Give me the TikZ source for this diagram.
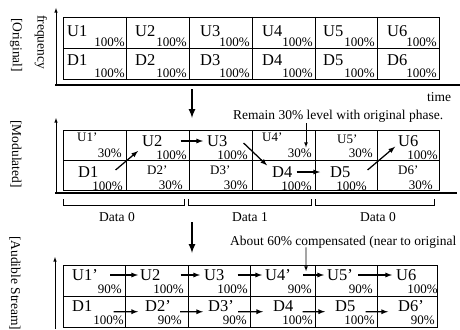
\documentclass[tikz,border=0pt]{standalone}
\usepackage{fontspec}
\setmainfont{Liberation Serif}
\usepackage{tikz}

\begin{document}
\begin{tikzpicture}[x=1pt, y=-1pt,
	big/.style={font=\fontsize{16.5}{16.5}\selectfont, inner sep=0pt, anchor=west},
	sml/.style={font=\fontsize{13}{13}\selectfont, inner sep=0pt, anchor=west},
	pct/.style={font=\fontsize{13}{13}\selectfont, inner sep=0pt, anchor=east},
	txt/.style={font=\fontsize{13.5}{13.5}\selectfont, inner sep=0pt},
	cell/.style={line width=0.9pt},
	base/.style={line width=1.5pt},
	axis/.style={line width=0.6pt, -latex},
	brk/.style={line width=0.8pt},
	flow/.style={line width=1.25pt, -latex},
	pin/.style={line width=0.7pt, -latex},
	down/.style={line width=2pt, -latex}]
	\useasboundingbox (0,0) rectangle (460,329);
	\clip (0,0) rectangle (460,329);

	% original
	\node[txt, rotate=-90] (orig) at (16,45) {[Original]};
	\node[txt, rotate=-90] (freq) at (41,42) {frequency};
	\node[txt] (time) at (439,97) {time};
	\draw[axis] (56,85) -- (56,8);
	\draw[base] (55,85) -- (460,85);
	\draw[cell] (63,17) rectangle (439,79) (63,48) -- (439,48)
	(126,17) -- (126,79) (189,17) -- (189,79) (252,17) -- (252,79)
	(315,17) -- (315,79) (377,17) -- (377,79);
	\node[big] (ou1) at (67,31) {U1};   \node[pct] (ou1p) at (125,42) {100\%};
	\node[big] (ou2) at (135,31) {U2};  \node[pct] (ou2p) at (187,42) {100\%};
	\node[big] (ou3) at (200,31) {U3};  \node[pct] (ou3p) at (250,42) {100\%};
	\node[big] (ou4) at (262,31) {U4};  \node[pct] (ou4p) at (313,42) {100\%};
	\node[big] (ou5) at (323,31) {U5};  \node[pct] (ou5p) at (375,42) {100\%};
	\node[big] (ou6) at (387,31) {U6};  \node[pct] (ou6p) at (437,42) {100\%};
	\node[big] (od1) at (67,60) {D1};   \node[pct] (od1p) at (125,73) {100\%};
	\node[big] (od2) at (135,60) {D2};  \node[pct] (od2p) at (187,73) {100\%};
	\node[big] (od3) at (200,60) {D3};  \node[pct] (od3p) at (250,73) {100\%};
	\node[big] (od4) at (262,60) {D4};  \node[pct] (od4p) at (313,73) {100\%};
	\node[big] (od5) at (323,60) {D5};  \node[pct] (od5p) at (375,73) {100\%};
	\node[big] (od6) at (387,60) {D6};  \node[pct] (od6p) at (437,73) {100\%};

	\coordinate (dn1a) at (192,89);
	\coordinate (dn1b) at (192,118);
	\draw[down] (dn1a) -- (dn1b);

	% modulated
	\node[txt, rotate=-90] (modu) at (16,154) {[Modulated]};
	\node[txt, anchor=west] (remain) at (233,116) {Remain 30\% level with original phase.};
	\draw[axis] (56,192) -- (56,118);
	\draw[base] (55,193) -- (457,193);
	\draw[cell] (63,130) rectangle (439,190) (63,160) -- (439,160)
	(126,130) -- (126,190) (189,130) -- (189,190) (252,130) -- (252,190)
	(315,130) -- (315,190) (377,130) -- (377,190);
	\node[sml] (mu1) at (77,137) {U1'};  \node[pct] (mu1p) at (122,153) {30\%};
	\node[big] (mu2) at (142,141) {U2};  \node[pct] (mu2p) at (187,155) {100\%};
	\node[big] (mu3) at (207,141) {U3};  \node[pct] (mu3p) at (248,155) {100\%};
	\node[sml] (mu4) at (262,137) {U4'}; \node[pct] (mu4p) at (312,153) {30\%};
	\node[sml] (mu5) at (337,139) {U5'}; \node[pct] (mu5p) at (373,153) {30\%};
	\node[big] (mu6) at (398,141) {U6};  \node[pct] (mu6p) at (438,155) {100\%};
	\node[big] (md1) at (78,172) {D1};   \node[pct] (md1p) at (123,186) {100\%};
	\node[sml] (md2) at (147,170) {D2'}; \node[pct] (md2p) at (183,185) {30\%};
	\node[sml] (md3) at (210,170) {D3'}; \node[pct] (md3p) at (248,185) {30\%};
	\node[big] (md4) at (272,172) {D4};  \node[pct] (md4p) at (312,186) {100\%};
	\node[big] (md5) at (330,172) {D5};  \node[pct] (md5p) at (367,186) {100\%};
	\node[sml] (md6) at (398,170) {D6'}; \node[pct] (md6p) at (433,185) {30\%};
	\draw[flow] ([shift={(17,-2)}]md1.east) -- ([shift={(-4,10)}]mu2.west);
	\draw[flow, shorten <=18pt, shorten >=4pt] (mu2) -- (mu3);
	\draw[flow] ([shift={(16,2)}]mu3.east) -- ([shift={(-5,-1)}]md4.north west);
	\draw[flow, shorten <=4pt, shorten >=10pt] (md4) -- (md5);
	\draw[flow] ([shift={(17,-2)}]md5.east) -- ([shift={(-3,0)}]mu6.south west);
	\draw[pin] ([shift={(73,1)}]remain.south west) -- ([shift={(-6,-1)}]mu4p.north east);

	% data brackets
	\draw[brk] (63,199) |- (184,205) -- (184,199);
	\draw[brk] (188,199) |- (311,205) -- (311,199);
	\draw[brk] (315,199) |- (434,205) -- (434,199);
	\node[txt] (data0a) at (117,217) {Data 0};
	\node[txt] (data1) at (250,217) {Data 1};
	\node[txt] (data0b) at (378,217) {Data 0};

	\coordinate (dn2a) at (192,222);
	\coordinate (dn2b) at (192,253);
	\draw[down] (dn2a) -- (dn2b);

	% audible
	\node[txt, rotate=-90, anchor=west] (aud) at (15,236) {[Audible Stream]};
	\node[txt, anchor=west] (about) at (230,242) {About 60\% compensated (near to original};
	\draw[axis] (55,329) -- (55,257);
	\draw[cell] (63,265) rectangle (437,327) (63,296) -- (437,296)
	(125,265) -- (125,327) (188,265) -- (188,327) (250,265) -- (250,327)
	(315,265) -- (315,327) (377,265) -- (377,327);
	\node[big] (au1) at (72,275) {U1'};  \node[pct] (au1p) at (122,289) {90\%};
	\node[big] (au2) at (140,275) {U2};   \node[pct] (au2p) at (184,289) {100\%};
	\node[big] (au3) at (204,275) {U3};   \node[pct] (au3p) at (248,289) {100\%};
	\node[big] (au4) at (265,275) {U4'};  \node[pct] (au4p) at (312,289) {90\%};
	\node[big] (au5) at (327,275) {U5'};  \node[pct] (au5p) at (373,289) {90\%};
	\node[big] (au6) at (396,275) {U6};   \node[pct] (au6p) at (438,289) {100\%};
	\node[big] (ad1) at (72,306) {D1};    \node[pct] (ad1p) at (124,320) {100\%};
	\node[big] (ad2) at (145,306) {D2'};  \node[pct] (ad2p) at (182,320) {90\%};
	\node[big] (ad3) at (208,306) {D3'};  \node[pct] (ad3p) at (247,320) {90\%};
	\node[big] (ad4) at (273,306) {D4};   \node[pct] (ad4p) at (313,320) {100\%};
	\node[big] (ad5) at (335,306) {D5};   \node[pct] (ad5p) at (375,320) {100\%};
	\node[big] (ad6) at (398,306) {D6'};  \node[pct] (ad6p) at (435,320) {90\%};
	\draw[flow, shorten <=12pt, shorten >=2pt] (au1) -- (au2);
	\draw[flow, shorten <=20pt, shorten >=4pt] (au2) -- (au3);
	\draw[flow, shorten <=13pt, shorten >=3pt] (au3) -- (au4);
	\draw[flow, shorten <=12pt, shorten >=3pt] (au4) -- (au5);
	\draw[flow, shorten <=5pt, shorten >=4pt] (au5) -- (au6);
	\draw[flow, shorten <=21pt, shorten >=7pt] (ad1.south east) -- (ad2.south west);
	\draw[flow, shorten <=9pt, shorten >=5pt] (ad2.south east) -- (ad3.south west);
	\draw[flow, shorten <=4pt, shorten >=10pt] (ad3.south east) -- (ad4.south west);
	\draw[flow, shorten <=9pt, shorten >=10pt] (ad4.south east) -- (ad5.south west);
	\draw[flow, shorten <=10pt, shorten >=10pt] (ad5.south east) -- (ad6.south west);
	\draw[pin] ([shift={(76,-1)}]about.south west) -- ([shift={(15,2)}]au4.north east);
\end{tikzpicture}
\end{document}
